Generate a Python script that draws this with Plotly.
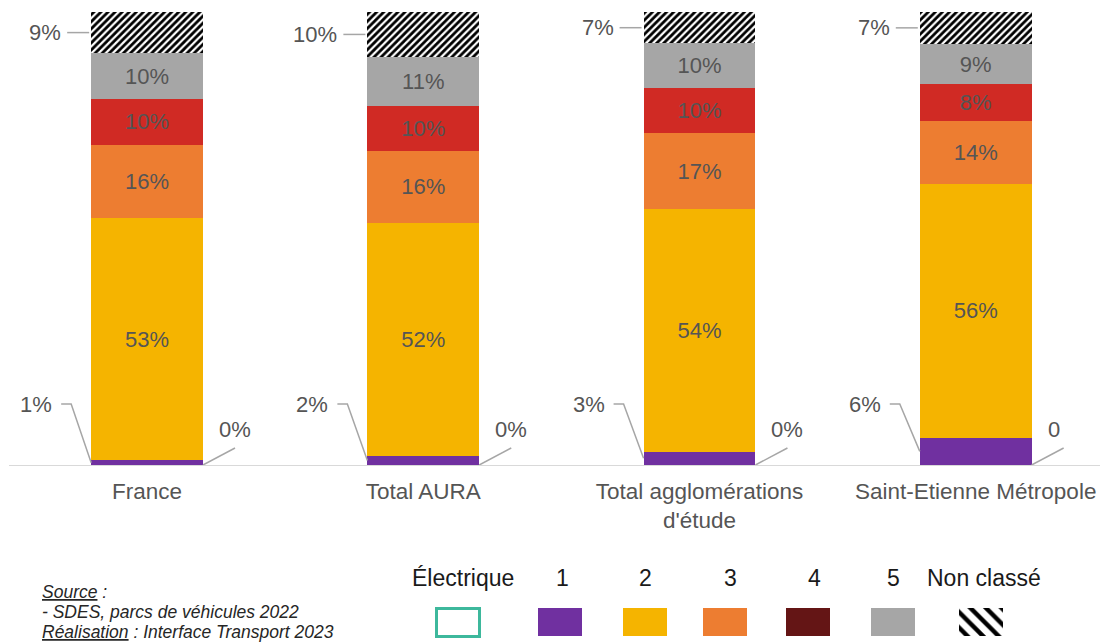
import plotly.graph_objects as go

# --- data -----------------------------------------------------------------
categories = ["France", "Total AURA", "Total agglomérations<br>d'étude", "Saint-Etienne Métropole"]
electrique = [0, 0, 0, 0]
crit1 = [1, 2, 3, 6]
crit2 = [53, 52, 54, 56]
crit3 = [16, 16, 17, 14]
crit4 = [10, 10, 10, 8]
crit5 = [10, 11, 10, 9]
non_classe = [9, 10, 7, 7]
elec_labels = ["0%", "0%", "0%", "0"]

legend_names = ["Électrique", "1", "2", "3", "4", "5", "Non classé"]

# --- styling --------------------------------------------------------------
W, H = 1105, 644
C_PURPLE = "#7030A0"
C_YELLOW = "#F5B400"
C_ORANGE = "#ED7D31"
C_RED = "#D02A24"
C_MAROON = "#641515"
C_GREY = "#A6A6A6"
C_TEAL = "#3DB89C"
TXT = "#555555"
LEAD = "#A6A6A6"
FONT = "Liberation Sans, Arial, sans-serif"
LBL = 22

# plot area in pixels
PL, PR, PT, PB = 9, 1100, 12, 465
XR = [-0.5, 3.45]
BW = 0.405
PX_X = (PR - PL) / (XR[1] - XR[0])
PX_Y = (PB - PT) / 100.0

x = list(range(len(categories)))
series = [electrique, crit1, crit2, crit3, crit4, crit5, non_classe]
totals = [sum(s[i] for s in series) for i in x]

fig = go.Figure()

def add_seg(vals, color, show_text, pattern=None):
    fig.add_trace(go.Bar(
        x=x, y=vals, width=BW,
        marker=dict(color=color, line=dict(width=0), pattern=pattern),
        text=[f"{v}%" for v in vals] if show_text else None,
        texttemplate="%{text}" if show_text else None,
        textposition="inside" if show_text else "none",
        insidetextanchor="middle",
        textangle=0,
        constraintext="none",
        insidetextfont=dict(size=LBL, color=TXT, family=FONT),
        hoverinfo="skip",
        showlegend=False,
    ))

add_seg(electrique, "white", False)
add_seg(crit1, C_PURPLE, False)
add_seg(crit2, C_YELLOW, True)
add_seg(crit3, C_ORANGE, True)
add_seg(crit4, C_RED, True)
add_seg(crit5, C_GREY, True)
add_seg(non_classe, "white", False,
        pattern=dict(shape="/", size=5, solidity=0.55, fgcolor="#000000",
                     bgcolor="#ffffff", fgopacity=1, fillmode="replace"))

annotations = []
shapes = []

for i in x:
    t = totals[i]
    left = i - BW / 2
    right = i + BW / 2
    # Non classé: label on the left of the top segment
    below = sum(s[i] for s in series[:-1]) / t * 100
    yc = below + non_classe[i] / t * 100 / 2
    shapes.append(dict(type="line", xref="x", yref="y",
                       x0=left - 24 / PX_X, x1=left - 2 / PX_X, y0=yc, y1=yc,
                       line=dict(color=LEAD, width=1.5)))
    annotations.append(dict(x=left - 28 / PX_X, y=yc, xref="x", yref="y",
                            text=f"{non_classe[i]}%", showarrow=False,
                            xanchor="right", yanchor="middle",
                            font=dict(size=LBL, color=TXT, family=FONT)))
    # Critère 1: label on the left with a bent leader line
    c1 = (electrique[i] + crit1[i] / 2) / t * 100
    yl = (PB - 404) / PX_Y
    shapes.append(dict(type="path", xref="x", yref="y",
                       path=(f"M {left - 30 / PX_X},{yl} L {left - 20 / PX_X},{yl} "
                             f"L {left},{c1}"),
                       line=dict(color=LEAD, width=1.5)))
    annotations.append(dict(x=left - 37 / PX_X, y=yl, xref="x", yref="y",
                            text=f"{crit1[i]}%", showarrow=False,
                            xanchor="right", yanchor="middle",
                            font=dict(size=LBL, color=TXT, family=FONT)))
    # Électrique: label on the right of the base
    shapes.append(dict(type="line", xref="x", yref="y",
                       x0=right, y0=electrique[i] / t * 100,
                       x1=right + 32 / PX_X, y1=17 / PX_Y,
                       line=dict(color=LEAD, width=1.5)))
    annotations.append(dict(x=right + 14 / PX_X, y=21 / PX_Y, xref="x", yref="y",
                            text=elec_labels[i], showarrow=False,
                            xanchor="left", yanchor="bottom",
                            font=dict(size=LBL, color=TXT, family=FONT)))

# --- legend drawn on its own small axis (stack normalised to 100) ---------
leg_sym_x = [458, 560, 645, 725, 808, 893]
leg_hatch_x = [981]
leg_txt_x = [463, 562, 645, 730, 814, 893, 984]
leg_fill = ["white", C_PURPLE, C_YELLOW, C_ORANGE, C_MAROON, C_GREY]
leg_line = [C_TEAL, C_PURPLE, C_YELLOW, C_ORANGE, C_MAROON, C_GREY]
leg_line_w = [3, 0, 0, 0, 0, 0]

fig.add_trace(go.Bar(
    x=leg_sym_x, y=[100] * len(leg_sym_x), width=[43, 44, 44, 44, 44, 44],
    xaxis="x2", yaxis="y2",
    marker=dict(color=leg_fill, line=dict(color=leg_line, width=leg_line_w)),
    hoverinfo="skip", showlegend=False,
))
fig.add_trace(go.Bar(
    x=leg_hatch_x, y=[100], width=44,
    xaxis="x2", yaxis="y2",
    marker=dict(color="white", line=dict(width=0),
                pattern=dict(shape="\\", size=11, solidity=0.4,
                             fgcolor="#000000", bgcolor="#ffffff",
                             fgopacity=1, fillmode="replace")),
    hoverinfo="skip", showlegend=False,
))
for name, tx in zip(legend_names, leg_txt_x):
    annotations.append(dict(x=tx / W, y=1 - 578 / H, xref="paper", yref="paper",
                            text=name, showarrow=False, xanchor="center", yanchor="middle",
                            font=dict(size=23, color="#1a1a1a", family=FONT)))

# --- source note ------------------------------------------------------------
source_lines = ["<i><u>Source</u> :</i>",
                "<i>- SDES, parcs de véhicules 2022</i>",
                "<i><u>Réalisation</u> : Interface Transport 2023</i>"]
for k, line in enumerate(source_lines):
    annotations.append(dict(
        x=40 / W, y=1 - (592 + 20 * k) / H, xref="paper", yref="paper",
        xanchor="left", yanchor="middle", align="left", showarrow=False,
        text=line, font=dict(size=17.5, color="#262626", family=FONT),
    ))

LEG_PAD = 6 / 28 * 100
fig.update_layout(
    width=W, height=H,
    margin=dict(l=0, r=0, t=0, b=0),
    paper_bgcolor="white", plot_bgcolor="white",
    barmode="stack", barnorm="percent",
    showlegend=False,
    font=dict(family=FONT, color=TXT),
    xaxis=dict(domain=[PL / W, PR / W], range=XR, tickvals=x, ticktext=categories,
               showgrid=False, zeroline=False, showline=True, linecolor="#D9D9D9",
               linewidth=1, ticks="", ticklabelstandoff=6,
               tickfont=dict(size=22.5, color=TXT, family=FONT),
               fixedrange=True),
    yaxis=dict(domain=[1 - PB / H, 1 - PT / H], range=[0, 100], visible=False,
               fixedrange=True),
    xaxis2=dict(domain=[0, 1], range=[0, W], visible=False, anchor="y2"),
    yaxis2=dict(domain=[1 - 642 / H, 1 - 602 / H], range=[-LEG_PAD, 100 + LEG_PAD],
                visible=False, anchor="x2"),
    annotations=annotations,
    shapes=shapes,
)

fig.write_html("out.html")
